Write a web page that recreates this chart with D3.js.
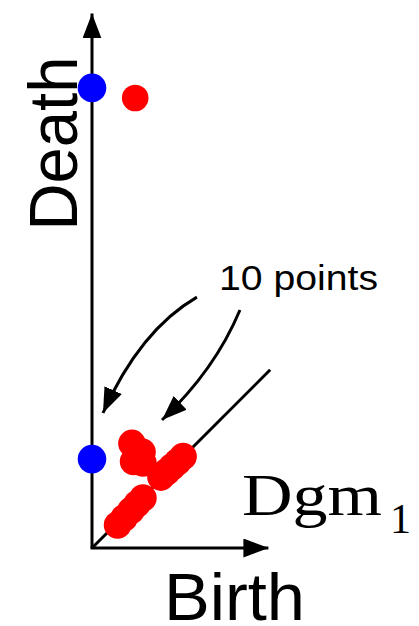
<!DOCTYPE html>
<html>
<head>
<meta charset="utf-8">
<script src="https://cdn.jsdelivr.net/npm/d3@7"></script>
<style>
html,body{margin:0;padding:0;background:#fff;}
svg{display:block;}
</style>
</head>
<body>
<svg id="chart" width="419" height="626"></svg>
<script>
// ---- data (birth, death) ----
const bluePoints = [
  {birth: 0, death: 255.6},
  {birth: 0, death: 49.4}
];
const redIsolated = [
  {birth: 24.0, death: 250.0}
];
const redClusterBirth = [22.2, 27.8, 23.1, 28.3, 50.6, 47.5, 44.4, 41.4, 38.3, 28.3, 25.0, 21.7, 17.8, 14.2];
const redClusterDeath = [58.1, 53.3, 48.1, 47.2, 50.8, 47.8, 45.0, 42.2, 39.4, 27.8, 24.4, 20.8, 16.7, 12.8];
const axisLabels = {x: "Birth", y: "Death"};
const diagramLabel = "Dgm";
const diagramIndex = "1";
const annotationText = "10 points";
// arrows in data coordinates: start, control, tip
const arrows = [
  {start: [58.3, 139.4], ctrl: [26.7, 121.1], tip: [6.1, 75.0]},
  {start: [82.2, 132.2], ctrl: [68.3, 98.9], tip: [38.9, 71.1]}
];

const svg = d3.select("#chart");
const x = d3.scaleLinear().domain([0, 100]).range([92, 272]);
const y = d3.scaleLinear().domain([0, 100]).range([548, 368]);

const xAxisMax = 98;   // data units
const yAxisMax = 297;
const diagMax = 99;

const defs = svg.append("defs");
defs.append("marker")
  .attr("id", "ah")
  .attr("viewBox", "0 0 25 19")
  .attr("refX", 25).attr("refY", 9.5)
  .attr("markerWidth", 25).attr("markerHeight", 19)
  .attr("markerUnits", "userSpaceOnUse")
  .attr("orient", "auto")
  .append("path").attr("d", "M0,0 L25,9.5 L0,19 Z").attr("fill", "#000");

// diagonal
svg.append("line")
  .attr("x1", x(0)).attr("y1", y(0))
  .attr("x2", x(diagMax)).attr("y2", y(diagMax))
  .attr("stroke", "#000").attr("stroke-width", 3);

// axes
svg.append("line")
  .attr("x1", x(0)).attr("y1", y(0))
  .attr("x2", x(0)).attr("y2", y(yAxisMax))
  .attr("stroke", "#000").attr("stroke-width", 3)
  .attr("marker-end", "url(#ah)");
svg.append("line")
  .attr("x1", x(0) - 1.5).attr("y1", y(0))
  .attr("x2", x(xAxisMax)).attr("y2", y(0))
  .attr("stroke", "#000").attr("stroke-width", 3)
  .attr("marker-end", "url(#ah)");

// annotation arrows
svg.selectAll("path.ann").data(arrows).join("path")
  .attr("class", "ann")
  .attr("d", d => {
    const p = d3.path();
    p.moveTo(x(d.start[0]), y(d.start[1]));
    p.quadraticCurveTo(x(d.ctrl[0]), y(d.ctrl[1]), x(d.tip[0]), y(d.tip[1]));
    return p.toString();
  })
  .attr("fill", "none").attr("stroke", "#000").attr("stroke-width", 3)
  .attr("marker-end", "url(#ah)");

// red cluster
const cluster = redClusterBirth.map((b, i) => ({birth: b, death: redClusterDeath[i]}));
svg.selectAll("circle.cl").data(cluster).join("circle")
  .attr("class", "cl")
  .attr("cx", d => x(d.birth)).attr("cy", d => y(d.death))
  .attr("r", 13.8).attr("fill", "#ff0000");

svg.selectAll("circle.iso").data(redIsolated).join("circle")
  .attr("class", "iso")
  .attr("cx", d => x(d.birth)).attr("cy", d => y(d.death))
  .attr("r", 13.3).attr("fill", "#ff0000");

svg.selectAll("circle.blue").data(bluePoints).join("circle")
  .attr("class", "blue")
  .attr("cx", d => x(d.birth)).attr("cy", d => y(d.death))
  .attr("r", 14.3).attr("fill", "#0000ff");

// labels
svg.append("text")
  .attr("transform", "translate(77,143.5) rotate(-90)")
  .attr("text-anchor", "middle")
  .attr("font-family", "Liberation Sans, Arial, sans-serif")
  .attr("font-size", 68)
  .attr("textLength", 174).attr("lengthAdjust", "spacingAndGlyphs")
  .text(axisLabels.y);

svg.append("text")
  .attr("x", 164).attr("y", 620)
  .attr("font-family", "Liberation Sans, Arial, sans-serif")
  .attr("font-size", 66)
  .attr("textLength", 141).attr("lengthAdjust", "spacingAndGlyphs")
  .text(axisLabels.x);

svg.append("text")
  .attr("x", 219).attr("y", 290)
  .attr("font-family", "Liberation Sans, Arial, sans-serif")
  .attr("font-size", 35)
  .attr("textLength", 159).attr("lengthAdjust", "spacingAndGlyphs")
  .text(annotationText);

svg.append("text")
  .attr("x", 242).attr("y", 515)
  .attr("font-family", "Liberation Serif, Times New Roman, serif")
  .attr("font-size", 60)
  .attr("textLength", 140).attr("lengthAdjust", "spacingAndGlyphs")
  .text(diagramLabel);

svg.append("text")
  .attr("x", 390).attr("y", 533)
  .attr("font-family", "Liberation Serif, Times New Roman, serif")
  .attr("font-size", 42)
  .text(diagramIndex);
</script>
</body>
</html>
